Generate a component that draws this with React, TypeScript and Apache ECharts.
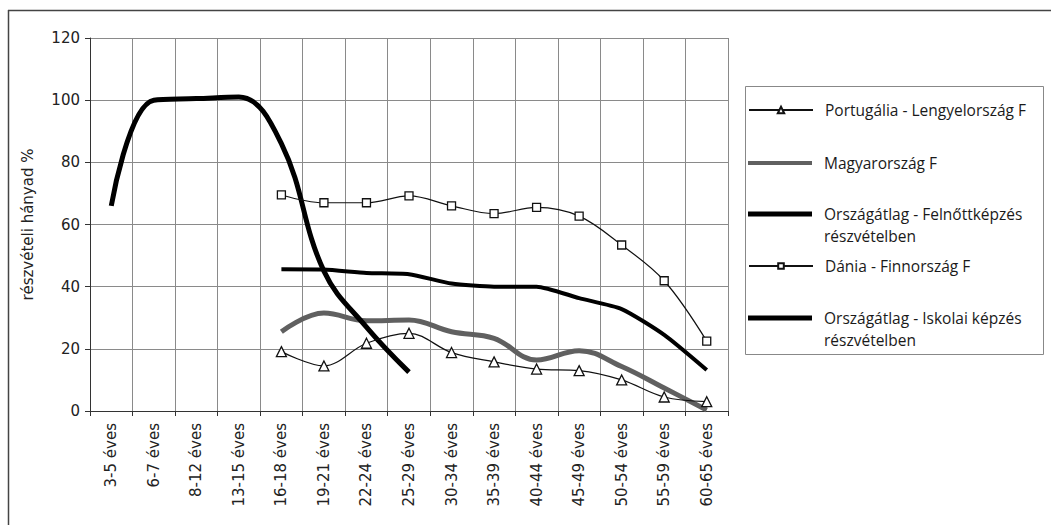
import React, { useEffect, useRef } from "react";
import * as echarts from "echarts";

const categories = [
  "3-5 éves", "6-7 éves", "8-12 éves", "13-15 éves", "16-18 éves",
  "19-21 éves", "22-24 éves", "25-29 éves", "30-34 éves", "35-39 éves",
  "40-44 éves", "45-49 éves", "50-54 éves", "55-59 éves", "60-65 éves",
];

const seriesNames = [
  "Portugália - Lengyelország F",
  "Magyarország F",
  "Országátlag - Felnőttképzés részvételben",
  "Dánia - Finnország F",
  "Országátlag - Iskolai képzés részvételben",
];

const portugalia = [null, null, null, null, 19.1, 14.5, 21.8, 25, 18.8, 15.8, 13.5, 13, 10, 4.5, 3];
const magyarorszag = [null, null, null, null, 25.5, 31.5, 29, 29.3, 25.5, 23.4, 16.4, 19.4, 14.3, 7.4, 0.3];
const felnottkepzes = [null, null, null, null, 45.6, 45.5, 44.4, 44, 41, 40, 40, 36.3, 32.8, 24.5, 13.2];
const dania = [null, null, null, null, 69.5, 67, 67, 69.2, 66, 63.5, 65.5, 62.7, 53.4, 41.9, 22.5];
const iskolai = [66, 100, 100.5, 101, 86, 45, 27, 12.5, null, null, null, null, null, null, null];

const legendFirstLines = [
  "Portugália - Lengyelország F",
  "Magyarország F",
  "Országátlag - Felnőttképzés",
  "Dánia - Finnország F",
  "Országátlag - Iskolai képzés",
];
const legendSecondLines = ["", "", "részvételben", "", "részvételben"];

export default function App() {
  const ref = useRef<HTMLDivElement>(null);

  useEffect(() => {
    if (!ref.current) return;
    const chart = echarts.init(ref.current, undefined, { renderer: "svg" });
    const axisFont = "DejaVu Sans";
    const legendFont = "Open Sans";
    const legendSize = 15.5;

    const legendCenters = [110, 163, 214, 266, 318];
    const legendIcons: (string | null)[] = [null, "rect", "rect", null, "rect"];
    const legendIconH = [8, 4, 5, 7, 5];
    const legends = seriesNames.map((name, i) => ({
      data: legendIcons[i] ? [{ name, icon: legendIcons[i] }] : [name],
      left: 748,
      top: legendCenters[i] - 11,
      orient: "vertical",
      padding: 0,
      itemGap: 0,
      itemWidth: 64,
      itemHeight: legendIconH[i],
      selectedMode: false,
      formatter: () => legendFirstLines[i],
      textStyle: {
        fontFamily: legendFont,
        fontSize: legendSize,
        color: "#1a1a1a",
        lineHeight: 22,
        padding: [0, 0, 0, 7],
      },
    }));

    const secondLineTexts = legendSecondLines
      .map((t, i) => ({ t, i }))
      .filter((o) => o.t)
      .map((o) => ({
        type: "text",
        style: {
          text: o.t,
          x: 824,
          y: legendCenters[o.i] + 22,
          verticalAlign: "middle",
          align: "left",
          fontFamily: legendFont,
          fontSize: legendSize,
          fill: "#1a1a1a",
        },
      }));

    const thin = (name: string, data: (number | null)[], symbol: string, size: number) => ({
      name,
      type: "line",
      data,
      smooth: 0.35,
      symbol,
      symbolSize: size,
      showSymbol: true,
      connectNulls: false,
      lineStyle: { color: "#111", width: 1.2 },
      itemStyle: { color: "#fff", borderColor: "#111", borderWidth: 1.3 },
      z: 5,
    });

    chart.setOption({
      animation: false,
      backgroundColor: "#fff",
      grid: { left: 90, right: 323, top: 38, bottom: 114, containLabel: false },
      legend: legends,
      xAxis: {
        type: "category",
        data: categories,
        boundaryGap: true,
        axisLine: { lineStyle: { color: "#333", width: 1 } },
        axisTick: { show: true, length: 5, lineStyle: { color: "#333" } },
        axisLabel: {
          rotate: 90,
          margin: 12,
          fontFamily: axisFont,
          fontSize: 15,
          color: "#222",
          interval: 0,
        },
        splitLine: { show: true, lineStyle: { color: "#8a8a8a", width: 1 } },
      },
      yAxis: {
        type: "value",
        min: 0,
        max: 120,
        interval: 20,
        name: "részvételi hányad %",
        nameLocation: "middle",
        nameGap: 55,
        nameTextStyle: { fontFamily: axisFont, fontSize: 15, color: "#222" },
        axisLine: { show: true, lineStyle: { color: "#333", width: 1 } },
        axisTick: { show: true, length: 5, lineStyle: { color: "#333" } },
        axisLabel: { fontFamily: axisFont, fontSize: 15, color: "#222", margin: 10 },
        splitLine: { show: true, lineStyle: { color: "#8a8a8a", width: 1 } },
      },
      series: [
        thin(seriesNames[0], portugalia, "triangle", 10),
        {
          name: seriesNames[1],
          type: "line",
          data: magyarorszag,
          smooth: 0.4,
          showSymbol: false,
          symbol: "none",
          lineStyle: { color: "#606060", width: 5 },
          itemStyle: { color: "#606060" },
          z: 3,
        },
        {
          name: seriesNames[2],
          type: "line",
          data: felnottkepzes,
          smooth: 0.2,
          showSymbol: false,
          symbol: "none",
          lineStyle: { color: "#000", width: 4 },
          itemStyle: { color: "#000" },
          z: 4,
        },
        thin(seriesNames[3], dania, "rect", 8),
        {
          name: seriesNames[4],
          type: "line",
          data: iskolai,
          smooth: 0.4,
          showSymbol: false,
          symbol: "none",
          lineStyle: { color: "#000", width: 5 },
          itemStyle: { color: "#000" },
          z: 4,
        },
      ],
      graphic: [
        {
          type: "line",
          shape: { x1: 8, y1: 10.5, x2: 1051, y2: 10.5 },
          style: { stroke: "#444", lineWidth: 1.5 },
        },
        {
          type: "line",
          shape: { x1: 8.5, y1: 10, x2: 8.5, y2: 525 },
          style: { stroke: "#444", lineWidth: 1.5 },
        },
        {
          type: "rect",
          shape: { x: 745.5, y: 86.5, width: 298, height: 268 },
          style: { fill: "none", stroke: "#888", lineWidth: 1 },
          z: -1,
        },
        ...secondLineTexts,
      ],
    });

    return () => chart.dispose();
  }, []);

  return (
    <div
      ref={ref}
      style={{ position: "fixed", left: 0, top: 0, width: 1051, height: 525 }}
    />
  );
}
